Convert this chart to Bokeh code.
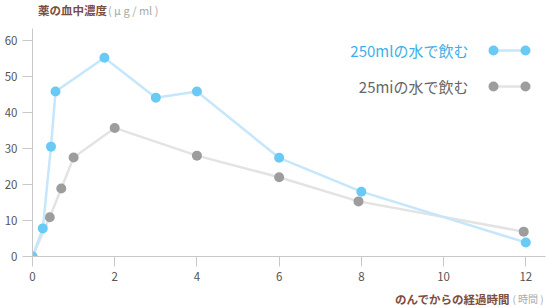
from bokeh.plotting import figure
from bokeh.layouts import column
from bokeh.models import Range1d, Label, FixedTicker, ColumnDataSource
from bokeh.embed import file_html
from bokeh.resources import INLINE

# data
hours_250 = [0, 0.25, 0.45, 0.56, 1.75, 3, 4, 6, 8, 12]
conc_250 = [0, 7.8, 30.5, 45.8, 55.2, 44.1, 45.8, 27.4, 18.0, 3.9]
hours_25 = [0, 0.42, 0.7, 1.0, 2.0, 4.0, 6.0, 7.93, 11.95]
conc_25 = [0, 10.9, 18.9, 27.5, 35.7, 28.0, 22.0, 15.3, 6.9]
x_ticks = [0, 2, 4, 6, 8, 10, 12]
y_ticks = [0, 10, 20, 30, 40, 50, 60]
series_labels = ["250mlの水で飲む", "25miの水で飲む"]
title_main, title_unit = "薬の血中濃度", "(  μ g / ml  )"
xlabel_main, xlabel_unit = "のんでからの経過時間", "( 時間 )"

W = 551
TOP_H, MAIN_H, BOT_H = 28, 257, 22
LB, RB, BB = 32, 6, 29
XMAX, YMAX = 12.48, 63.3

BLUE_LINE = "#c6e7fb"
BLUE_PT = "#6acaf6"
BLUE_TXT = "#3db0ea"
GREY_LINE = "#e3e3e3"
GREY_PT = "#9d9d9d"
GREY_TXT = "#666666"
BROWN = "#7d4d3e"
UNIT_GREY = "#aaaaaa"
JP = "Noto Sans CJK JP"


def strip(h):
    f = figure(width=W, height=h, output_backend="svg", toolbar_location=None,
               x_range=Range1d(0, W), y_range=Range1d(0, h),
               x_axis_type=None, y_axis_type=None,
               min_border=0, min_border_left=0, min_border_right=0,
               min_border_top=0, min_border_bottom=0)
    f.outline_line_color = None
    f.grid.visible = False
    return f


# top strip: chart title
top = strip(TOP_H)
top.add_layout(Label(x=6, y=TOP_H - 9, text=title_main, text_baseline="middle",
                     text_color=BROWN, text_font=JP, text_font_size="11.5px",
                     text_font_style="bold"))
top.add_layout(Label(x=81, y=TOP_H - 9, text=title_unit, text_baseline="middle",
                     text_color=UNIT_GREY, text_font=JP, text_font_size="11px"))

# main chart
p = figure(width=W, height=MAIN_H, output_backend="svg", toolbar_location=None,
           x_range=Range1d(0, XMAX), y_range=Range1d(0, YMAX),
           min_border_left=LB, min_border_right=RB, min_border_top=0,
           min_border_bottom=BB)
p.outline_line_color = None
p.xgrid.visible = False
p.ygrid.visible = False

for ax, ticks in ((p.xaxis, x_ticks), (p.yaxis, y_ticks)):
    ax.ticker = FixedTicker(ticks=ticks)
    ax.axis_line_color = "#c8c8c8"
    ax.major_tick_line_color = "#c8c8c8"
    ax.major_tick_out = 10
    ax.major_tick_in = 0
    ax.minor_tick_line_color = None
    ax.major_label_text_color = "#555555"
    ax.major_label_text_font = JP
    ax.major_label_text_font_size = "11.5px"
p.xaxis.major_label_standoff = 5
p.yaxis.major_label_standoff = 5

s1 = ColumnDataSource(dict(x=hours_250, y=conc_250))
s2 = ColumnDataSource(dict(x=hours_25, y=conc_25))
p.line("x", "y", source=s2, line_color=GREY_LINE, line_width=2.5)
p.scatter("x", "y", source=s2, size=10, fill_color=GREY_PT, line_color=None)
p.line("x", "y", source=s1, line_color=BLUE_LINE, line_width=2.5)
p.scatter("x", "y", source=s1, size=10, fill_color=BLUE_PT, line_color=None)

# legend (pixel positions in the page converted to data coords)
fw, fh = W - LB - RB, MAIN_H - BB
def sx(px):
    return (px - LB) / fw * XMAX
def sy(py):
    return (fh - (py - TOP_H)) / fh * YMAX

for ypix, lc, pc in ((50, BLUE_LINE, BLUE_PT), (86, GREY_LINE, GREY_PT)):
    xs = [sx(493), sx(525)]
    ys = [sy(ypix), sy(ypix)]
    p.line(xs, ys, line_color=lc, line_width=2.5)
    p.scatter(xs, ys, size=10, fill_color=pc, line_color=None)

for ypix, txt, col in ((50, series_labels[0], BLUE_TXT), (86, series_labels[1], GREY_TXT)):
    p.add_layout(Label(x=sx(468), y=sy(ypix), text=txt, text_align="right",
                       text_baseline="middle", text_color=col,
                       text_font=JP, text_font_size="15px"))

# bottom strip: x axis title
bot = strip(BOT_H)
bot.add_layout(Label(x=513, y=9, text=xlabel_main, text_align="right",
                     text_baseline="middle", text_color=BROWN, text_font=JP,
                     text_font_size="11.5px", text_font_style="bold"))
bot.add_layout(Label(x=549, y=9, text=xlabel_unit, text_align="right",
                     text_baseline="middle", text_color=UNIT_GREY, text_font=JP,
                     text_font_size="10px"))

layout = column(top, p, bot, spacing=0)
open("out.html", "w").write(file_html(layout, INLINE))
